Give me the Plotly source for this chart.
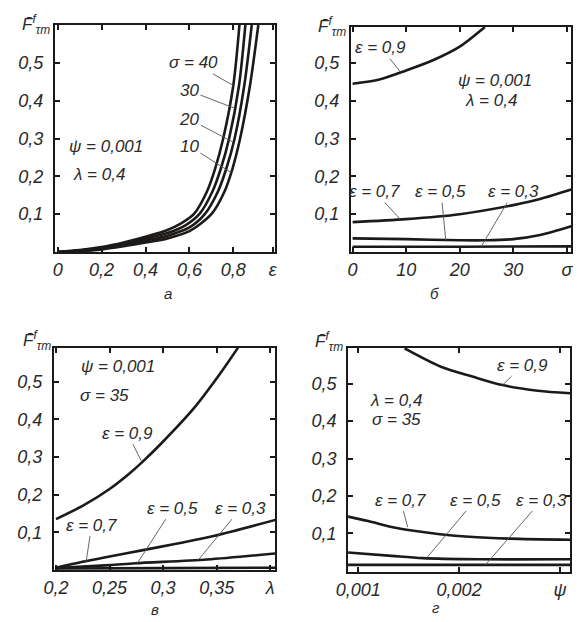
import plotly.graph_objects as go

# ---------------- Panel а : F vs ε (ψ=0,001, λ=0,4) ----------------
eps_s40 = [0, 0.1, 0.2, 0.3, 0.4, 0.5, 0.56, 0.62, 0.68, 0.717, 0.754, 0.80, 0.828]
F_s40 = [0, 0.005, 0.013, 0.025, 0.04, 0.058, 0.075, 0.10, 0.16, 0.22, 0.30, 0.44, 0.60]
eps_s30 = [0, 0.1, 0.2, 0.3, 0.4, 0.5, 0.58, 0.645, 0.705, 0.743, 0.781, 0.826, 0.855]
F_s30 = [0, 0.004, 0.011, 0.021, 0.035, 0.05, 0.07, 0.10, 0.16, 0.22, 0.30, 0.44, 0.60]
eps_s20 = [0, 0.1, 0.2, 0.3, 0.4, 0.5, 0.6, 0.67, 0.73, 0.768, 0.806, 0.85, 0.884]
F_s20 = [0, 0.003, 0.009, 0.018, 0.03, 0.043, 0.065, 0.10, 0.16, 0.22, 0.30, 0.44, 0.60]
eps_s10 = [0, 0.1, 0.2, 0.3, 0.4, 0.5, 0.6, 0.7, 0.76, 0.796, 0.831, 0.876, 0.914]
F_s10 = [0, 0.002, 0.007, 0.015, 0.025, 0.036, 0.055, 0.10, 0.16, 0.22, 0.30, 0.44, 0.60]

# ---------------- Panel б : F vs σ (ψ=0,001, λ=0,4) ----------------
sig_e09 = [0, 5, 10, 15, 20, 24.7]
F_sig_e09 = [0.445, 0.456, 0.48, 0.507, 0.543, 0.595]
sig_e07 = [0, 10, 20, 30, 35, 40.8]
F_sig_e07 = [0.079, 0.087, 0.10, 0.124, 0.14, 0.165]
sig_e05 = [0, 10, 20, 25, 30, 35, 40.8]
F_sig_e05 = [0.036, 0.034, 0.031, 0.031, 0.034, 0.045, 0.068]
sig_e03 = [0, 20, 40.8]
F_sig_e03 = [0.014, 0.014, 0.015]

# ---------------- Panel в : F vs λ (ψ=0,001, σ=35) ----------------
lam_e09 = [0.2, 0.226, 0.25, 0.268, 0.28, 0.298, 0.329, 0.353, 0.37]
F_lam_e09 = [0.135, 0.172, 0.215, 0.255, 0.285, 0.335, 0.43, 0.52, 0.59]
lam_e07 = [0.2, 0.215, 0.25, 0.28, 0.311, 0.347, 0.405]
F_lam_e07 = [0.006, 0.016, 0.036, 0.052, 0.069, 0.09, 0.133]
lam_e05 = [0.2, 0.25, 0.274, 0.341, 0.405]
F_lam_e05 = [0.005, 0.013, 0.018, 0.028, 0.044]
lam_e03 = [0.2, 0.3, 0.405]
F_lam_e03 = [0.004, 0.005, 0.006]

# ---------------- Panel г : F vs ψ (λ=0,4, σ=35) ----------------
psi_e09 = [0.00146, 0.00182, 0.00214, 0.00243, 0.00278, 0.0031]
F_psi_e09 = [0.594, 0.545, 0.518, 0.496, 0.481, 0.474]
psi_e07 = [0.0009, 0.0011, 0.00133, 0.00155, 0.00181, 0.0021, 0.0025, 0.0031]
F_psi_e07 = [0.145, 0.133, 0.117, 0.107, 0.098, 0.091, 0.086, 0.083]
psi_e05 = [0.0009, 0.00133, 0.00164, 0.0022, 0.0031]
F_psi_e05 = [0.049, 0.04, 0.034, 0.031, 0.031]
psi_e03 = [0.0009, 0.002, 0.0031]
F_psi_e03 = [0.016, 0.016, 0.016]

# tick labels
y_ticks = [0.1, 0.2, 0.3, 0.4, 0.5]
y_ticktext = ["0,1", "0,2", "0,3", "0,4", "0,5"]
a_xticks = [0, 0.2, 0.4, 0.6, 0.8, 0.98]
a_xtext = ["0", "0,2", "0,4", "0,6", "0,8", "ε"]
b_xticks = [0, 10, 20, 30, 40]
b_xtext = ["0", "10", "20", "30", "σ"]
v_xticks = [0.2, 0.25, 0.3, 0.35, 0.4]
v_xtext = ["0,2", "0,25", "0,3", "0,35", "λ"]
g_xticks = [0.001, 0.002, 0.003]
g_xtext = ["0,001", "0,002", "ψ"]

INK = "#1c1a18"
TXT = "#2a2a2a"
FONT = "Liberation Sans"
W, H = 579, 622

fig = go.Figure()


def curve(x, y, ax):
    fig.add_trace(go.Scatter(x=x, y=y, mode="lines", xaxis="x" + ax, yaxis="y" + ax,
                             line=dict(color=INK, width=2.6, shape="spline", smoothing=0.8),
                             showlegend=False, hoverinfo="skip", cliponaxis=True))


for xs, ys in [(eps_s40, F_s40), (eps_s30, F_s30), (eps_s20, F_s20), (eps_s10, F_s10)]:
    curve(xs, ys, "")
for xs, ys in [(sig_e09, F_sig_e09), (sig_e07, F_sig_e07), (sig_e05, F_sig_e05), (sig_e03, F_sig_e03)]:
    curve(xs, ys, "2")
for xs, ys in [(lam_e09, F_lam_e09), (lam_e07, F_lam_e07), (lam_e05, F_lam_e05), (lam_e03, F_lam_e03)]:
    curve(xs, ys, "3")
for xs, ys in [(psi_e09, F_psi_e09), (psi_e07, F_psi_e07), (psi_e05, F_psi_e05), (psi_e03, F_psi_e03)]:
    curve(xs, ys, "4")


def xaxis(dom, rng, tv, tt, anchor):
    return dict(domain=dom, range=rng, tickvals=tv, ticktext=tt, anchor=anchor,
                showline=True, linewidth=2, linecolor=INK, mirror="ticks",
                ticks="inside", ticklen=5, tickwidth=1.5, tickcolor=INK,
                showgrid=False, zeroline=False, ticklabelstandoff=0,
                tickfont=dict(family=FONT, size=18, color=TXT, style="italic"))


def yaxis(dom, rng, anchor):
    return dict(domain=dom, range=rng, tickvals=y_ticks, ticktext=y_ticktext, anchor=anchor,
                showline=True, linewidth=2, linecolor=INK, mirror="ticks",
                ticks="inside", ticklen=5, tickwidth=1.5, tickcolor=INK,
                showgrid=False, zeroline=False, ticklabelstandoff=6,
                tickfont=dict(family=FONT, size=18, color=TXT, style="italic"))


fig.update_layout(
    width=W, height=H, margin=dict(l=0, r=0, t=0, b=0),
    paper_bgcolor="white", plot_bgcolor="white",
    font=dict(family=FONT, size=17, color=TXT, style="italic"),
    xaxis=xaxis([44 / W, 270 / W], [-0.013, 0.99], a_xticks, a_xtext, "y"),
    yaxis=yaxis([1 - 252 / H, 1 - 25 / H], [0, 0.6], "x"),
    xaxis2=xaxis([348 / W, 574 / W], [-0.3, 40.8], b_xticks, b_xtext, "y2"),
    yaxis2=yaxis([1 - 252 / H, 1 - 27 / H], [0, 0.595], "x2"),
    xaxis3=xaxis([43 / W, 270 / W], [0.198, 0.4045], v_xticks, v_xtext, "y3"),
    yaxis3=yaxis([1 - 570 / H, 1 - 348 / H], [0, 0.589], "x3"),
    xaxis4=xaxis([345 / W, 573 / W], [0.0009, 0.0031], g_xticks, g_xtext, "y4"),
    yaxis4=yaxis([1 - 572 / H, 1 - 348 / H], [-0.003, 0.595], "x4"),
)

annotations = []


def label(ax, text, tx, ty, hx=None, hy=None, size=17):
    a = dict(text=text, xref="x" + ax, yref="y" + ax,
             font=dict(family=FONT, size=size, color=TXT, style="italic"))
    if hx is None:
        a.update(x=tx, y=ty, showarrow=False)
    else:
        a.update(x=hx, y=hy, ax=tx, ay=ty, axref="x" + ax, ayref="y" + ax,
                 showarrow=True, arrowhead=0, arrowwidth=0.9, arrowcolor="#555", standoff=0)
    annotations.append(a)


# panel а
label("", "σ = 40", 0.62, 0.50, 0.80, 0.44)
label("", "30", 0.60, 0.426, 0.806, 0.38)
label("", "20", 0.60, 0.351, 0.80, 0.29)
label("", "10", 0.60, 0.28, 0.79, 0.21)
label("", "ψ = 0,001", 0.22, 0.28)
label("", "λ = 0,4", 0.19, 0.206)
# panel б
label("2", "ε = 0,9", 5.3, 0.54, 8.9, 0.477)
label("2", "ψ = 0,001", 26.5, 0.453)
label("2", "λ = 0,4", 25.9, 0.40)
label("2", "ε = 0,7", 4.1, 0.16, 8.9, 0.087)
label("2", "ε = 0,5", 16.5, 0.16, 17.4, 0.031)
label("2", "ε = 0,3", 30.1, 0.16, 24.0, 0.014)
# panel в
label("3", "ψ = 0,001", 0.2576, 0.539)
label("3", "σ = 35", 0.2455, 0.464)
label("3", "ε = 0,9", 0.2667, 0.363, 0.28, 0.287)
label("3", "ε = 0,7", 0.2333, 0.119, 0.228, 0.02)
label("3", "ε = 0,5", 0.309, 0.164, 0.276, 0.018)
label("3", "ε = 0,3", 0.3727, 0.164, 0.333, 0.027)
# panel г
label("4", "ε = 0,9", 0.00263, 0.549, 0.00243, 0.496)
label("4", "λ = 0,4", 0.00137, 0.456)
label("4", "σ = 35", 0.00138, 0.403)
label("4", "ε = 0,7", 0.00142, 0.189, 0.00149, 0.117)
label("4", "ε = 0,5", 0.00216, 0.189, 0.00168, 0.035)
label("4", "ε = 0,3", 0.00282, 0.189, 0.00226, 0.016)

# y-axis titles (top-left of each frame) and panel letters
ytitle = "F̄<sup>f</sup><sub>τт</sub>"
for px, py in [(41, 24), (345, 26), (42, 340), (342, 342)]:
    annotations.append(dict(text=ytitle, xref="paper", yref="paper", x=px / W, y=1 - py / H,
                            showarrow=False, xanchor="right", yanchor="middle",
                            font=dict(family=FONT, size=17, color=TXT, style="italic")))
for txt, px, py in [("а", 160, 294), ("б", 434, 294), ("в", 147, 609), ("г", 435, 607)]:
    annotations.append(dict(text=txt, xref="paper", yref="paper", x=px / W, y=1 - py / H,
                            showarrow=False, xanchor="center", yanchor="middle",
                            font=dict(family=FONT, size=15, color=TXT, style="italic")))

fig.update_layout(annotations=annotations)
fig.write_html("out.html")
